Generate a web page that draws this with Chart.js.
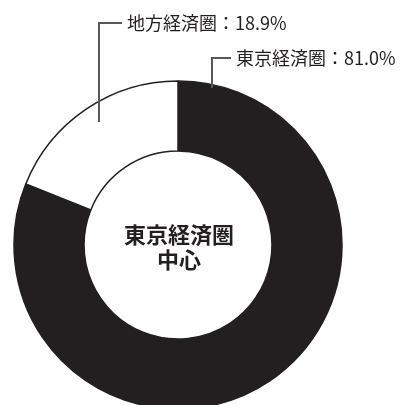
<!DOCTYPE html>
<html>
<head>
<meta charset="utf-8">
<script src="https://cdn.jsdelivr.net/npm/chart.js@4"></script>
<style>
  html, body { margin: 0; padding: 0; background: #fff; }
  #wrap { width: 401px; height: 405px; }
</style>
</head>
<body>
<div id="wrap"><canvas id="chart" width="401" height="405"></canvas></div>
<script>
const regions = ["東京経済圏", "地方経済圏"];
const shares = [81.0, 18.9];
const centerLines = ["東京経済圏", "中心"];

const ink = "#231f20";
const lineGray = "#595757";

// leader line + label, placed relative to the doughnut centre
const callouts = [
  { idx: 1, tip: [-79, -123], corner: [-79, -222], textX: -51 },
  { idx: 0, tip: [34, -157], corner: [34, -187], textX: 58 }
];

const labelsPlugin = {
  id: "labels",
  afterDraw(chart) {
    const arc = chart.getDatasetMeta(0).data[0];
    const cx = arc.x, cy = arc.y;
    const ctx = chart.ctx;
    ctx.save();

    // centre title
    ctx.fillStyle = ink;
    ctx.font = "bold 22px 'Noto Sans CJK JP'";
    ctx.textAlign = "center";
    ctx.textBaseline = "middle";
    ctx.fillText(centerLines[0], cx + 1, cy - 10);
    ctx.fillText(centerLines[1], cx + 1, cy + 15);

    // callouts
    ctx.font = "18px 'Noto Sans CJK JP'";
    ctx.textAlign = "left";
    callouts.forEach(c => {
      const x = cx + c.corner[0], y = cy + c.corner[1];
      ctx.strokeStyle = lineGray;
      ctx.lineWidth = 2;
      ctx.beginPath();
      ctx.moveTo(cx + c.tip[0], cy + c.tip[1]);
      ctx.lineTo(x, y);
      ctx.lineTo(cx + c.textX - 5, y);
      ctx.stroke();
      ctx.fillStyle = ink;
      ctx.fillText(regions[c.idx] + "：" + shares[c.idx].toFixed(1) + "%", cx + c.textX, y);
    });
    ctx.restore();
  }
};

new Chart(document.getElementById("chart"), {
  type: "doughnut",
  data: {
    labels: regions,
    datasets: [{
      data: shares,
      backgroundColor: [ink, "#ffffff"],
      borderColor: ink,
      borderWidth: 1.5,
      hoverOffset: 0,
      offset: 0,
      radius: 164
    }]
  },
  options: {
    responsive: false,
    animation: false,
    cutout: "57.3%",
    layout: { padding: { top: 85, left: 16, right: 61, bottom: 0 } },
    plugins: {
      legend: { display: false },
      tooltip: { enabled: false }
    }
  },
  plugins: [labelsPlugin]
});
</script>
</body>
</html>
